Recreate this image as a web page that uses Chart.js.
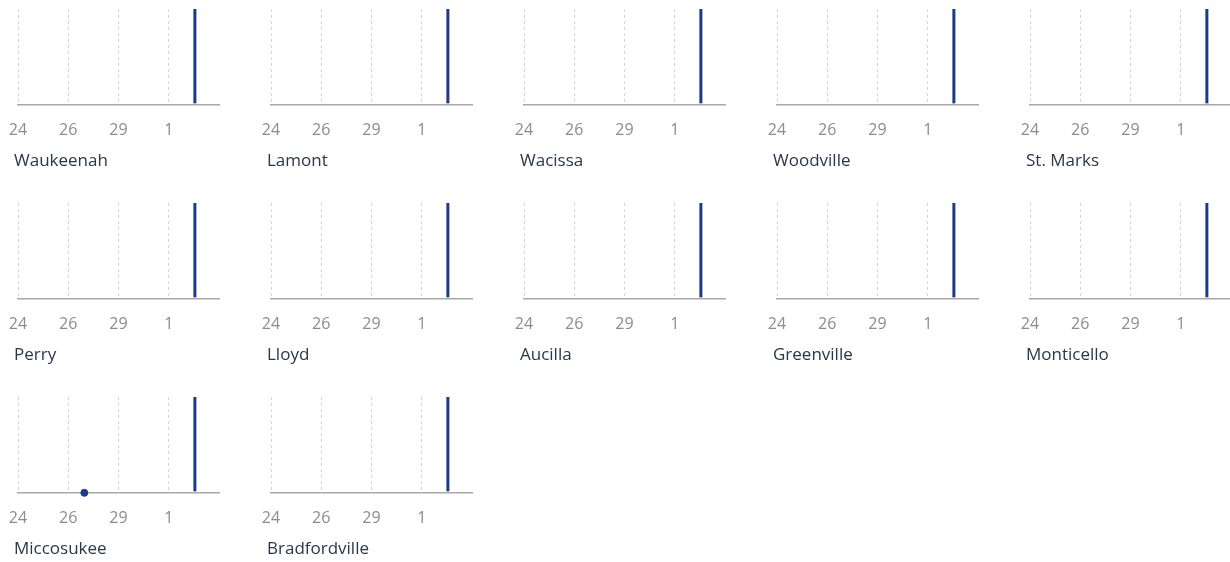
<!DOCTYPE html>
<html>
<head>
<meta charset="utf-8">
<script src="https://cdn.jsdelivr.net/npm/chart.js@4"></script>
<style>
  body { margin: 0; background: #fff; font-family: "Open Sans", sans-serif; }
  #grid { position: relative; width: 1230px; height: 562px; overflow: hidden; }
  .panel { position: absolute; width: 253px; height: 194px; }
  .panel canvas { position: absolute; left: 0; top: 0; }
  .panel .name { position: absolute; left: 14px; top: 148px; font-size: 17px; color: #27384a; }
</style>
</head>
<body>
<div id="grid"></div>
<script>
// towns, in grid order
const towns = ['Waukeenah', 'Lamont', 'Wacissa', 'Woodville', 'St. Marks',
               'Perry', 'Lloyd', 'Aucilla', 'Greenville', 'Monticello',
               'Miccosukee', 'Bradfordville'];
// x axis: days since the 24th
const tickValues = [0, 2.5, 5, 7.5];
const tickLabels = ['24', '26', '29', '1'];
const axisMax = 10;
// navy marker line (latest update)
const markerDay = 8.8;
// reported events per town: day and value (null = none)
const eventDays = [null, null, null, null, null, null, null, null, null, null, 3.3, null];
const eventValues = [null, null, null, null, null, null, null, null, null, null, 0, null];

const navy = '#1b3a8c';
const grid = document.getElementById('grid');

towns.forEach(function (town, i) {
    const col = i % 5, row = Math.floor(i / 5);
    const panel = document.createElement('div');
    panel.className = 'panel';
    panel.style.left = (col * 253) + 'px';
    panel.style.top = (row * 194) + 'px';
    const canvas = document.createElement('canvas');
    canvas.width = 253; canvas.height = 159;
    canvas.style.width = '253px'; canvas.style.height = '159px';
    panel.appendChild(canvas);
    const name = document.createElement('div');
    name.className = 'name';
    name.textContent = town;
    panel.appendChild(name);
    grid.appendChild(panel);

    const datasets = [{
        type: 'line',
        data: [{ x: markerDay, y: 0.015 }, { x: markerDay, y: 1 }],
        borderColor: navy,
        borderWidth: 3,
        pointRadius: 0,
        clip: false
    }];
    if (eventDays[i] !== null) {
        datasets.push({
            type: 'scatter',
            data: [{ x: eventDays[i], y: eventValues[i] }],
            backgroundColor: navy,
            borderColor: navy,
            pointRadius: 3.5,
            clip: false
        });
    }

    new Chart(canvas.getContext('2d'), {
        type: 'line',
        data: { datasets: datasets },
        options: {
            responsive: false,
            animation: false,
            events: [],
            layout: { padding: { left: 18, right: 34, top: 9, bottom: 3 } },
            plugins: { legend: { display: false }, tooltip: { enabled: false } },
            scales: {
                x: {
                    type: 'linear',
                    min: 0,
                    max: axisMax,
                    afterBuildTicks: function (scale) {
                        scale.ticks = tickValues.map(v => ({ value: v }));
                    },
                    afterFit: function (scale) {
                        scale.paddingLeft = 0;
                        scale.paddingRight = 0;
                    },
                    grid: {
                        color: '#d4d4d4',
                        lineWidth: 1,
                        drawTicks: false
                    },
                    border: { display: true, color: '#a8a8a8', width: 1.5, dash: [3, 3] },
                    ticks: {
                        padding: 16,
                        color: '#8c8c8c',
                        font: { family: 'Open Sans', size: 16 },
                        maxRotation: 0,
                        autoSkip: false,
                        callback: function (value, index) { return tickLabels[index]; }
                    }
                },
                y: { display: false, min: 0, max: 1 }
            }
        }
    });
});
</script>
</body>
</html>
